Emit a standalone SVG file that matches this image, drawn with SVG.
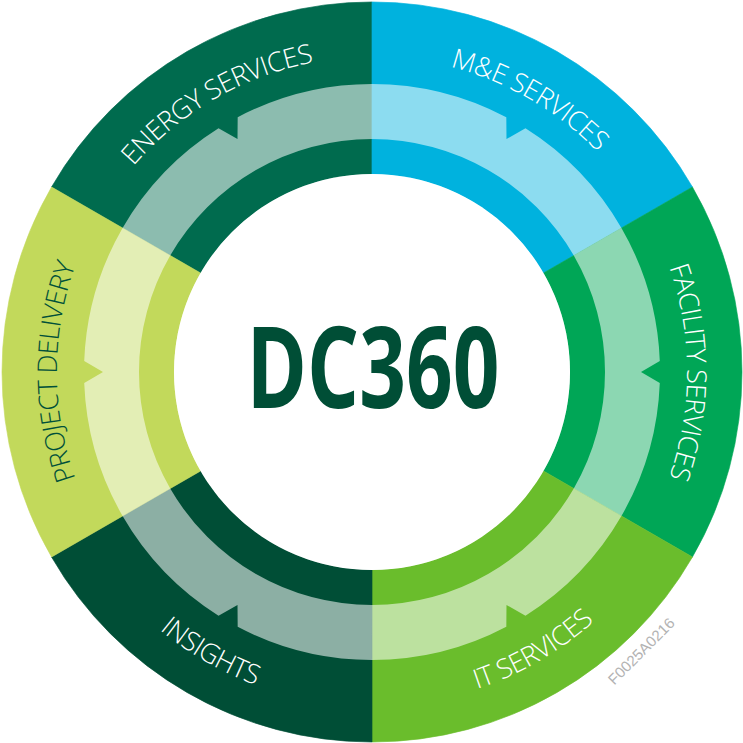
<svg xmlns="http://www.w3.org/2000/svg" width="743" height="743" viewBox="0 0 743 743">
<style>
.seg{stroke-width:0.6}
.band{fill:#ffffff;fill-opacity:0.55}
.lbl{font-family:"Open Sans","Noto Sans","DejaVu Sans",sans-serif;font-size:27px;font-weight:300;letter-spacing:-0.6px;fill:#ffffff}
.dark{fill:#00503a}
.title{font-family:"Open Sans",Roboto,"DejaVu Sans",sans-serif;font-weight:700;font-size:113px;fill:#004e36}
.code{font-family:"Liberation Sans",Arial,sans-serif;font-size:15px;fill:#b3b3b3}
</style>
<defs>
<path id="sector" d="M 692.43 187 A 370 370 0 0 1 692.43 557 L 543.47 471 A 198 198 0 0 0 543.47 273 Z"/>
<path id="band" d="M 621.42 228 A 288 288 0 0 1 659.79 360.94 L 641 372 L 659.79 383.06 A 288 288 0 0 1 621.42 516 L 573.78 488.5 A 233 233 0 0 0 573.78 255.5 Z"/>
<path id="cw" d="M 372 687 A 315 315 0 1 1 372 57 A 315 315 0 1 1 372 687"/>
<path id="ccw" d="M 372 38 A 334 334 0 1 0 372 706 A 334 334 0 1 0 372 38"/>
</defs>
<g id="node-energy">
<use href="#sector" class="seg" fill="#006b4e" stroke="#006b4e" transform="rotate(240 372 372)"/>
<text class="lbl" text-anchor="middle"><textPath href="#cw" startOffset="41.667%">ENERGY SERVICES</textPath></text>
</g>
<g id="node-me">
<use href="#sector" class="seg" fill="#00b2de" stroke="#00b2de" transform="rotate(-60 372 372)"/>
<text class="lbl" text-anchor="middle"><textPath href="#cw" startOffset="58.333%">M&amp;E SERVICES</textPath></text>
</g>
<g id="node-facility">
<use href="#sector" class="seg" fill="#00a656" stroke="#00a656"/>
<text class="lbl" text-anchor="middle"><textPath href="#cw" startOffset="75%">FACILITY SERVICES</textPath></text>
</g>
<g id="node-it">
<use href="#sector" class="seg" fill="#6abd2c" stroke="#6abd2c" transform="rotate(60 372 372)"/>
<text class="lbl" text-anchor="middle"><textPath href="#ccw" startOffset="58.333%">IT SERVICES</textPath></text>
</g>
<g id="node-insights">
<use href="#sector" class="seg" fill="#004e36" stroke="#004e36" transform="rotate(120 372 372)"/>
<text class="lbl" text-anchor="middle"><textPath href="#ccw" startOffset="41.667%">INSIGHTS</textPath></text>
</g>
<g id="node-project">
<use href="#sector" class="seg" fill="#c2d95b" stroke="#c2d95b" transform="rotate(180 372 372)"/>
<text class="lbl dark" text-anchor="middle"><textPath href="#cw" startOffset="25%">PROJECT DELIVERY</textPath></text>
</g>
<g id="connectors">
<use href="#band" class="band" transform="rotate(240 372 372)"/>
<use href="#band" class="band" transform="rotate(-60 372 372)"/>
<use href="#band" class="band"/>
<use href="#band" class="band" transform="rotate(60 372 372)"/>
<use href="#band" class="band" transform="rotate(120 372 372)"/>
<use href="#band" class="band" transform="rotate(180 372 372)"/>
</g>
<g id="node-center">
<circle cx="372" cy="372" r="198" fill="#ffffff"/>
<text class="title" x="373" y="408" text-anchor="middle" textLength="253" lengthAdjust="spacingAndGlyphs">DC360</text>
</g>
<text class="code" transform="translate(641 651) rotate(-45)" x="0" y="5.5" text-anchor="middle" textLength="87" lengthAdjust="spacingAndGlyphs">F0025A0216</text>
</svg>
